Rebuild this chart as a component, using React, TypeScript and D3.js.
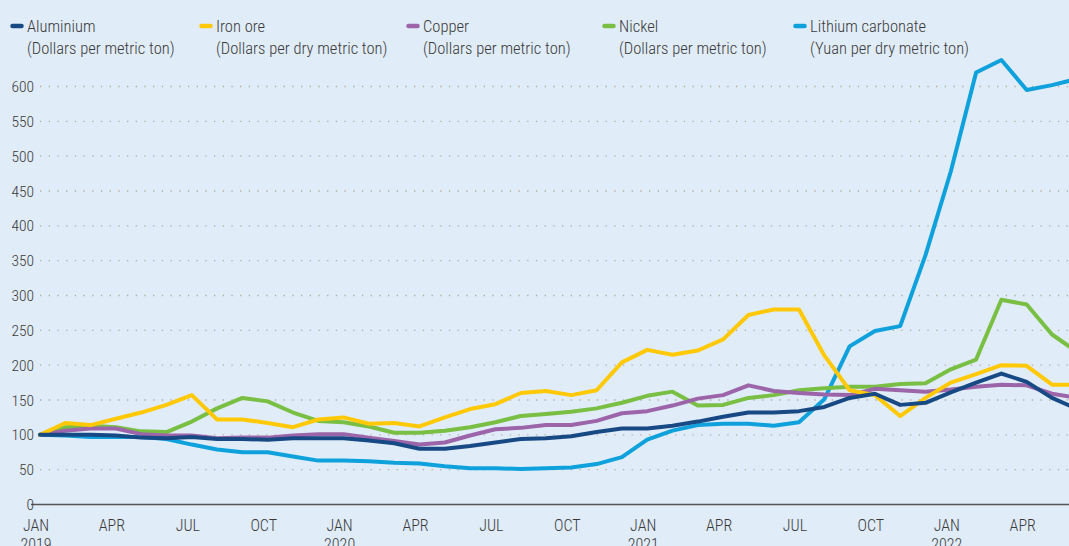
import * as d3 from 'd3';

// monthly index prices, Jan 2019 = 100 (Jan 2019 .. Jun 2022)
const aluminium = [100, 100, 100, 99, 96, 95, 97, 94, 94, 93, 95, 95, 95, 92, 88, 80, 80, 84, 89, 94, 95, 98, 104, 109, 109, 113, 119, 126, 132, 132, 134, 140, 153, 159, 143, 146, 161, 175, 188, 176, 153, 137];
const ironOre = [100, 117, 114, 123, 132, 143, 157, 122, 122, 117, 111, 122, 125, 116, 117, 112, 125, 137, 144, 160, 163, 157, 164, 204, 222, 215, 221, 237, 272, 280, 280, 214, 164, 157, 127, 153, 175, 187, 200, 199, 172, 172];
const copper = [100, 106, 109, 109, 101, 99, 99, 95, 96, 96, 99, 101, 101, 96, 91, 86, 89, 99, 108, 110, 114, 114, 120, 131, 134, 142, 152, 157, 171, 163, 160, 158, 157, 166, 164, 162, 165, 169, 172, 171, 159, 153];
const nickel = [100, 111, 113, 111, 105, 104, 119, 138, 153, 148, 132, 120, 118, 112, 103, 103, 106, 111, 118, 127, 130, 133, 138, 146, 156, 162, 142, 143, 153, 157, 164, 167, 169, 169, 173, 174, 194, 208, 294, 287, 244, 219];
const lithium = [100, 99, 97, 97, 97, 94, 86, 79, 75, 75, 69, 63, 63, 62, 60, 59, 55, 52, 52, 51, 52, 53, 58, 68, 93, 106, 114, 116, 116, 113, 118, 151, 227, 249, 256, 358, 478, 620, 638, 595, 602, 611];

const seriesNames = ['Aluminium', 'Iron ore', 'Copper', 'Nickel', 'Lithium carbonate'];
const seriesUnits = ['(Dollars per metric ton)', '(Dollars per dry metric ton)', '(Dollars per metric ton)', '(Dollars per metric ton)', '(Yuan per dry metric ton)'];
const seriesColors = ['#174a84', '#ffc907', '#9d65a9', '#79bf43', '#0fa1dc'];
const seriesValues = [aluminium, ironOre, copper, nickel, lithium];

const yTicks = [0, 50, 100, 150, 200, 250, 300, 350, 400, 450, 500, 550, 600];
const xTickMonths = [0, 3, 6, 9, 12, 15, 18, 21, 24, 27, 30, 33, 36, 39];
const xTickLabels = ['JAN', 'APR', 'JUL', 'OCT', 'JAN', 'APR', 'JUL', 'OCT', 'JAN', 'APR', 'JUL', 'OCT', 'JAN', 'APR'];
const xTickYears = ['2019', '', '', '', '2020', '', '', '', '2021', '', '', '', '2022', ''];

const legendX = [27, 216, 423, 619, 810];

const W = 1069;
const H = 546;
const font = "Roboto, 'Liberation Sans Narrow', sans-serif";
const textColor = '#3a3a3a';

export default function App() {
  const x = d3.scaleLinear().domain([0, 41]).range([40, 40 + 41 * 25.3]);
  const y = d3.scaleLinear().domain([0, 600]).range([504.5, 86.5]);

  const line = d3.line<number>()
    .x((d, i) => x(i))
    .y(d => y(d));

  // draw order: lithium underneath, aluminium on top
  const order = [4, 3, 2, 1, 0];

  return (
    <svg width={W} height={H} style={{ position: 'fixed', left: 0, top: 0, display: 'block' }}
      fontFamily={font} fontStretch="condensed">
      <rect width={W} height={H} fill="#e0ecf8" />

      {yTicks.filter(v => v > 0).map(v => (
        <line key={v} x1={40} x2={W} y1={y(v)} y2={y(v)}
          stroke="#b3ab9e" strokeWidth={1.3} strokeDasharray="1.3 7.4" />
      ))}
      <line x1={31} x2={W} y1={y(0)} y2={y(0)} stroke="#555" strokeWidth={1.3} />

      {yTicks.map(v => (
        <text key={v} x={34} y={y(v) + 5.5} textAnchor="end" fontSize={15.5} fill={textColor}
          fontWeight={300}>{v}</text>
      ))}

      {xTickMonths.map((m, i) => (
        <g key={m} transform={`translate(${x(m) - 4},0)`} fontSize={16} fill={textColor} fontWeight={300}>
          <text y={531} textAnchor="middle">{xTickLabels[i]}</text>
          {xTickYears[i] && <text y={550} textAnchor="middle">{xTickYears[i]}</text>}
        </g>
      ))}

      {order.map(k => (
        <path key={k} d={line(seriesValues[k]) || ''} fill="none" stroke={seriesColors[k]}
          strokeWidth={4} strokeLinejoin="round" strokeLinecap="round" />
      ))}

      {seriesNames.map((name, i) => (
        <g key={name} fill={textColor} fontSize={16.5} fontWeight={300}>
          <line x1={legendX[i] - 14.5} x2={legendX[i] - 5.5} y1={26} y2={26}
            stroke={seriesColors[i]} strokeWidth={4.5} strokeLinecap="round" />
          <text x={legendX[i]} y={32}>{name}</text>
          <text x={legendX[i]} y={54}>{seriesUnits[i]}</text>
        </g>
      ))}
    </svg>
  );
}
